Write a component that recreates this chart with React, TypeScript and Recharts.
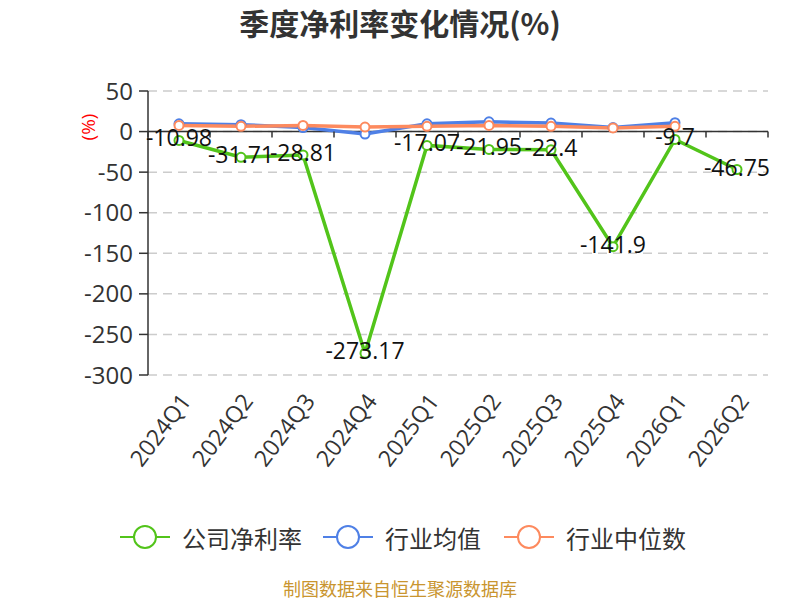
import React from 'react';
import {
  LineChart, Line, XAxis, YAxis, CartesianGrid, ReferenceLine, LabelList,
} from 'recharts';

// Quarterly net margin (%) – company vs industry
const quarters = ['2024Q1', '2024Q2', '2024Q3', '2024Q4', '2025Q1', '2025Q2', '2025Q3', '2025Q4', '2026Q1', '2026Q2'];
const companyMargin = [-10.98, -31.71, -28.81, -273.17, -17.07, -21.95, -22.4, -141.9, -9.7, -46.75];
const industryAvg = [9.5, 8.5, 5, -3, 9.5, 12, 10.5, 5, 11, null];
const industryMedian = [7.5, 6.5, 7.5, 5.5, 6.5, 7.5, 6.5, 4.5, 6.5, null];
const yTicks = [50, 0, -50, -100, -150, -200, -250, -300];

const data = quarters.map((quarter, i) => ({
  quarter,
  company: companyMargin[i],
  avg: industryAvg[i],
  median: industryMedian[i],
}));

const GREEN = '#52c41a';
const BLUE = '#4f80e6';
const ORANGE = '#fd8a5e';
const FONT = "'Open Sans', 'Noto Sans CJK SC', sans-serif";
const CJK = "'Noto Sans CJK SC', sans-serif";

// layout of the plot area
const PLOT_LEFT = 148;
const PLOT_TOP = 91;
const PLOT_W = 620;
const PLOT_H = 284;
const Y_MAX = 50;
const Y_MIN = -300;
const BAND = PLOT_W / quarters.length;
const ZERO_Y = PLOT_TOP + ((Y_MAX - 0) / (Y_MAX - Y_MIN)) * PLOT_H;

const XTick = (props: any) => {
  const { x, payload, index } = props;
  const isLast = index === quarters.length - 1;
  return (
    <g>
      <line x1={x - BAND / 2} y1={ZERO_Y} x2={x - BAND / 2} y2={ZERO_Y + 6} stroke="#333" strokeWidth={1.5} />
      {isLast && (
        <line x1={x + BAND / 2} y1={ZERO_Y} x2={x + BAND / 2} y2={ZERO_Y + 6} stroke="#333" strokeWidth={1.5} />
      )}
      <g transform={`translate(${x + 6},${PLOT_TOP + PLOT_H + 21})`}>
        <text
          textAnchor="end"
          dominantBaseline="central"
          transform="rotate(-53)"
          fill="#333"
          fontSize={23}
          fontFamily={FONT}
        >
          {payload.value}
        </text>
      </g>
    </g>
  );
};

const ValueLabel = (props: any) => {
  const { x, y, value } = props;
  return (
    <text x={x} y={y - 3} textAnchor="middle" dominantBaseline="central" fill="#111" fontSize={23} fontFamily={FONT}>
      {value}
    </text>
  );
};

const legendItems = [
  { name: '公司净利率', color: GREEN, left: 120 },
  { name: '行业均值', color: BLUE, left: 323 },
  { name: '行业中位数', color: ORANGE, left: 504 },
];

function LegendIcon({ color }: { color: string }) {
  return (
    <svg width={50} height={26} style={{ display: 'block' }}>
      <line x1={0} y1={13} x2={50} y2={13} stroke={color} strokeWidth={2} />
      <circle cx={25} cy={13} r={11} fill="#fff" stroke={color} strokeWidth={2} />
    </svg>
  );
}

export default function App() {
  return (
    <div style={{ position: 'absolute', left: 0, top: 0, width: 800, height: 600, background: '#fff', fontFamily: FONT }}>
      <div style={{ position: 'absolute', top: 0, left: 0, width: 800, textAlign: 'center', fontSize: 30, lineHeight: '44px', fontWeight: 'bold', color: '#333', fontFamily: CJK }}>
        季度净利率变化情况(%)
      </div>
      <div style={{ position: 'absolute', left: 76, top: 113, width: 24, height: 28, display: 'flex', alignItems: 'center', justifyContent: 'center' }}>
        <div style={{ transform: 'rotate(-90deg)', color: '#f00', fontSize: 19, whiteSpace: 'nowrap' }}>(%)</div>
      </div>

      <LineChart
        width={800}
        height={600}
        data={data}
        margin={{ top: PLOT_TOP, right: 800 - PLOT_LEFT - PLOT_W, left: PLOT_LEFT - 70, bottom: 600 - PLOT_TOP - PLOT_H - 100 }}
      >
        <CartesianGrid horizontal vertical={false} stroke="#ccc" strokeDasharray="9 6" strokeWidth={1.5} />
        <XAxis
          dataKey="quarter"
          scale="band"
          interval={0}
          height={100}
          axisLine={false}
          tickLine={false}
          tick={<XTick />}
        />
        <YAxis
          width={70}
          domain={[Y_MIN, Y_MAX]}
          ticks={yTicks}
          interval={0}
          axisLine={{ stroke: '#333', strokeWidth: 1.5 }}
          tickLine={{ stroke: '#333', strokeWidth: 1.5 }}
          tickSize={9}
          tickMargin={6}
          tick={{ fill: '#333', fontSize: 24, fontFamily: FONT }}
        />
        <ReferenceLine y={0} stroke="#333" strokeWidth={1.5} />
        <Line
          dataKey="company"
          stroke={GREEN}
          strokeWidth={3.5}
          dot={{ r: 4.5, fill: '#fff', stroke: GREEN, strokeWidth: 2 }}
          isAnimationActive={false}
        >
          <LabelList dataKey="company" content={<ValueLabel />} />
        </Line>
        <Line
          dataKey="avg"
          stroke={BLUE}
          strokeWidth={3.5}
          dot={{ r: 4.5, fill: '#fff', stroke: BLUE, strokeWidth: 2 }}
          isAnimationActive={false}
        />
        <Line
          dataKey="median"
          stroke={ORANGE}
          strokeWidth={3.5}
          dot={{ r: 4.5, fill: '#fff', stroke: ORANGE, strokeWidth: 2 }}
          isAnimationActive={false}
        />
      </LineChart>

      {legendItems.map((item) => (
        <div key={item.name} style={{ position: 'absolute', left: item.left, top: 523, display: 'flex', alignItems: 'center', height: 28 }}>
          <LegendIcon color={item.color} />
          <span style={{ marginLeft: 12, fontSize: 24, color: '#333', fontFamily: CJK }}>{item.name}</span>
        </div>
      ))}

      <div style={{ position: 'absolute', top: 575, left: 0, width: 800, textAlign: 'center', fontSize: 18, color: '#c9952f', fontFamily: CJK }}>
        制图数据来自恒生聚源数据库
      </div>
    </div>
  );
}
